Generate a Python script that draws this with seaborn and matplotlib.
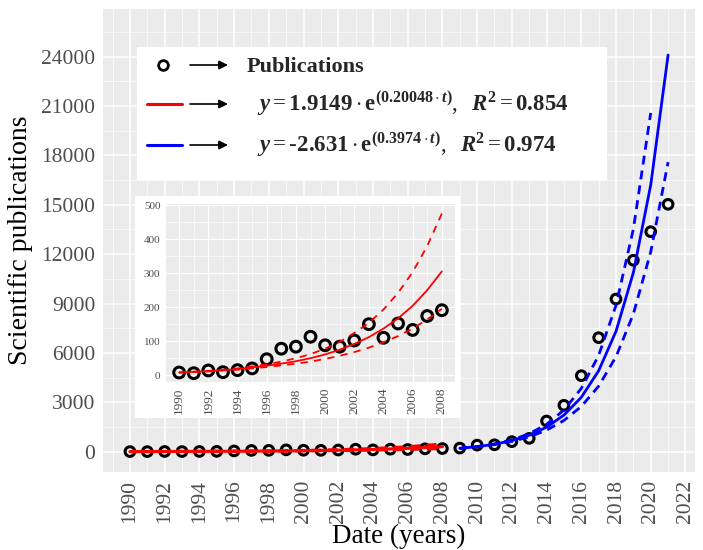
import numpy as np
import pandas as pd
import matplotlib
matplotlib.use("Agg")
import matplotlib.pyplot as plt
import seaborn as sns
from matplotlib.patches import Rectangle, FancyArrowPatch
from matplotlib.lines import Line2D

# ---------------- data ----------------
years = list(range(1990, 2022))
publications = [8, 6, 14, 9, 15, 20, 47, 78, 84, 113, 88, 84, 102, 150, 110, 152, 133, 174, 191,
                220, 400, 420, 610, 810, 1864, 2818, 4616, 6923, 9273, 11624, 13361, 15025]

red_years = list(range(1990, 2009))
red_fit = [8, 10, 12, 15, 18, 23, 28, 34, 41, 50, 61, 75, 92, 112, 137, 167, 204, 250, 305]
red_upper = [8, 10, 13, 16, 20, 26, 32, 40, 50, 62, 78, 98, 124, 154, 193, 242, 303, 380, 475]
red_lower = [8, 10, 11, 14, 16, 20, 24, 29, 34, 40, 48, 57, 68, 81, 97, 115, 137, 164, 195]

blue_years = list(range(2009, 2022))
blue_fit = [204, 304, 452, 673, 1000, 1490, 2220, 3300, 4915, 7310, 10880, 16200, 24090]
blue_upper_years = list(range(2009, 2021))
blue_upper = [204, 311, 472, 718, 1090, 1661, 2529, 3841, 5849, 8889, 13524, 20574]
blue_lower = [204, 296, 429, 622, 900, 1307, 1896, 2746, 3981, 5768, 8367, 12134, 17586]

main_xticks = list(range(1990, 2023, 2))
main_yticks = list(range(0, 24001, 3000))
inset_xticks = list(range(1990, 2009, 2))
inset_yticks = list(range(0, 501, 100))

legend_labels = ["Publications",
                 r"$\mathbfit{y} = \mathbf{1.9149}\cdot\mathbf{e}^{\mathbf{(0.20048}\cdot\mathbfit{t}\mathbf{)}},\ \ \mathbfit{R}^{\mathbf{2}} = \mathbf{0.854}$",
                 r"$\mathbfit{y} = \mathbf{\text{-}2.631}\cdot\mathbf{e}^{\mathbf{(0.3974}\cdot\mathbfit{t}\mathbf{)}},\ \ \mathbfit{R}^{\mathbf{2}} = \mathbf{0.974}$"]

# ---------------- style ----------------
sns.set_theme(style="darkgrid", rc={"axes.facecolor": "#EBEBEB", "grid.color": "white"})
plt.rcParams["font.family"] = ["Liberation Serif", "DejaVu Serif"]
plt.rcParams["mathtext.fontset"] = "custom"
plt.rcParams["mathtext.rm"] = "Liberation Serif"
plt.rcParams["mathtext.it"] = "Liberation Serif:italic"
plt.rcParams["mathtext.bf"] = "Liberation Serif:bold"
plt.rcParams["mathtext.bfit"] = "Liberation Serif:italic:bold"

W, H = 703, 550
def fx(px): return px / W
def fy(py): return 1 - py / H

fig = plt.figure(figsize=(W / 100, H / 100), dpi=100)
fig.patch.set_facecolor("white")

df = pd.DataFrame({"year": years, "pubs": publications})
df_red = pd.DataFrame({"year": red_years, "fit": red_fit, "up": red_upper, "lo": red_lower})
df_blue = pd.DataFrame({"year": blue_years, "fit": blue_fit, "lo": blue_lower})
df_blue_up = pd.DataFrame({"year": blue_upper_years, "up": blue_upper})

dash = (0, (3.2, 2.2))

# ---------------- main axes ----------------
ax = fig.add_axes([fx(103), fy(472), fx(695) - fx(103), fy(9) - fy(472)])
ax.set_facecolor("#EBEBEB")
sns.scatterplot(data=df, x="year", y="pubs", ax=ax, marker="o", s=48,
                facecolors="none", edgecolor="black", linewidth=2.2, zorder=3)
sns.lineplot(data=df_red, x="year", y="fit", ax=ax, color="red", lw=2.2, zorder=4)
sns.lineplot(data=df_red, x="year", y="up", ax=ax, color="red", lw=2.2, linestyle=dash, zorder=4)
sns.lineplot(data=df_red, x="year", y="lo", ax=ax, color="red", lw=2.2, linestyle=dash, zorder=4)
sns.lineplot(data=df_blue, x="year", y="fit", ax=ax, color="blue", lw=2.0, zorder=4)
sns.lineplot(data=df_blue_up, x="year", y="up", ax=ax, color="blue", lw=2.0, linestyle=dash, zorder=4)
sns.lineplot(data=df_blue, x="year", y="lo", ax=ax, color="blue", lw=2.0, linestyle=dash, zorder=4)

ax.set_xlim(1988.45, 2022.55)
ax.set_ylim(-1233, 26885)
ax.set_xticks(main_xticks)
ax.set_xticks(list(range(1989, 2023, 2)), minor=True)
ax.set_yticks(main_yticks)
ax.set_yticks(list(range(1500, 26000, 3000)), minor=True)
ax.set_xticklabels([str(v) for v in main_xticks], rotation=90)
ax.grid(which="major", color="white", lw=1.1)
ax.grid(which="minor", color="white", lw=0.5)
for s in ax.spines.values():
    s.set_visible(False)
ax.tick_params(which="major", length=4, width=0.9, color="#333333", labelcolor="#4D4D4D",
               labelsize=15.5, pad=1.5)
ax.tick_params(which="minor", length=0)
ax.set_xlabel("Date (years)", fontsize=19.5, color="black", va="baseline")
ax.xaxis.set_label_coords(0.5, (472 - 543) / 463)
ax.set_ylabel("Scientific publications", fontsize=20, color="black", labelpad=6)

# ---------------- legend box ----------------
fig.add_artist(Rectangle((fx(137), fy(180)), fx(607) - fx(137), fy(47) - fy(180),
                         transform=fig.transFigure, facecolor="white", edgecolor="none", zorder=1))
rows = [65, 104, 145]
fig.add_artist(Line2D([fx(163)], [fy(rows[0])], marker="o", ms=7, mfc="none", mec="black", mew=2,
                      transform=fig.transFigure, zorder=2))
fig.add_artist(Line2D([fx(147), fx(182)], [fy(rows[1])] * 2, color="red", lw=2.2,
                      transform=fig.transFigure, zorder=2))
fig.add_artist(Line2D([fx(147), fx(182)], [fy(rows[2])] * 2, color="blue", lw=2.2,
                      transform=fig.transFigure, zorder=2))
for r in rows:
    fig.add_artist(FancyArrowPatch((fx(190), fy(r)), (fx(228), fy(r)), transform=fig.transFigure,
                                   arrowstyle="-|>", mutation_scale=13, color="black", lw=1.2,
                                   shrinkA=0, shrinkB=0, zorder=2))
fig.text(fx(247), fy(72), legend_labels[0], fontsize=16, fontweight="bold", va="baseline", zorder=3)
fig.text(fx(257), fy(111), legend_labels[1], fontsize=16.5, va="baseline", zorder=3)
fig.text(fx(257), fy(152), legend_labels[2], fontsize=16.5, va="baseline", zorder=3)

# ---------------- inset ----------------
fig.add_artist(Rectangle((fx(135), fy(418)), fx(460) - fx(135), fy(196) - fy(418),
                         transform=fig.transFigure, facecolor="white", edgecolor="none", zorder=4))
axi = fig.add_axes([fx(166), fy(381.7), fx(455) - fx(166), fy(204) - fy(381.7)], zorder=5)
axi.set_facecolor("#EBEBEB")
df_in = df[df["year"] <= 2008]
sns.scatterplot(data=df_in, x="year", y="pubs", ax=axi, marker="o", s=60,
                facecolors="none", edgecolor="black", linewidth=2.2, zorder=3)
sns.lineplot(data=df_red, x="year", y="fit", ax=axi, color="red", lw=1.3, zorder=4)
sns.lineplot(data=df_red, x="year", y="up", ax=axi, color="red", lw=1.3, linestyle=(0, (4, 3.5)), zorder=4)
sns.lineplot(data=df_red, x="year", y="lo", ax=axi, color="red", lw=1.3, linestyle=(0, (4, 3.5)), zorder=4)
axi.set_xlim(1989.1, 2008.9)
axi.set_ylim(-19, 503)
axi.set_xticks(inset_xticks)
axi.set_xticks(list(range(1991, 2009, 2)), minor=True)
axi.set_yticks(inset_yticks)
axi.set_yticks(list(range(50, 501, 100)), minor=True)
axi.set_xticklabels([str(v) for v in inset_xticks], rotation=90)
axi.grid(which="major", color="white", lw=0.9)
axi.grid(which="minor", color="white", lw=0.45)
for s in axi.spines.values():
    s.set_visible(False)
axi.tick_params(which="major", length=2.5, width=0.7, color="#333333", labelcolor="#4D4D4D", pad=1.5)
axi.tick_params(axis="x", labelsize=9.5)
axi.tick_params(axis="y", labelsize=8)
axi.tick_params(which="minor", length=0)
axi.set_xlabel("")
axi.set_ylabel("")

fig.savefig("out.png", dpi=100, facecolor="white")
